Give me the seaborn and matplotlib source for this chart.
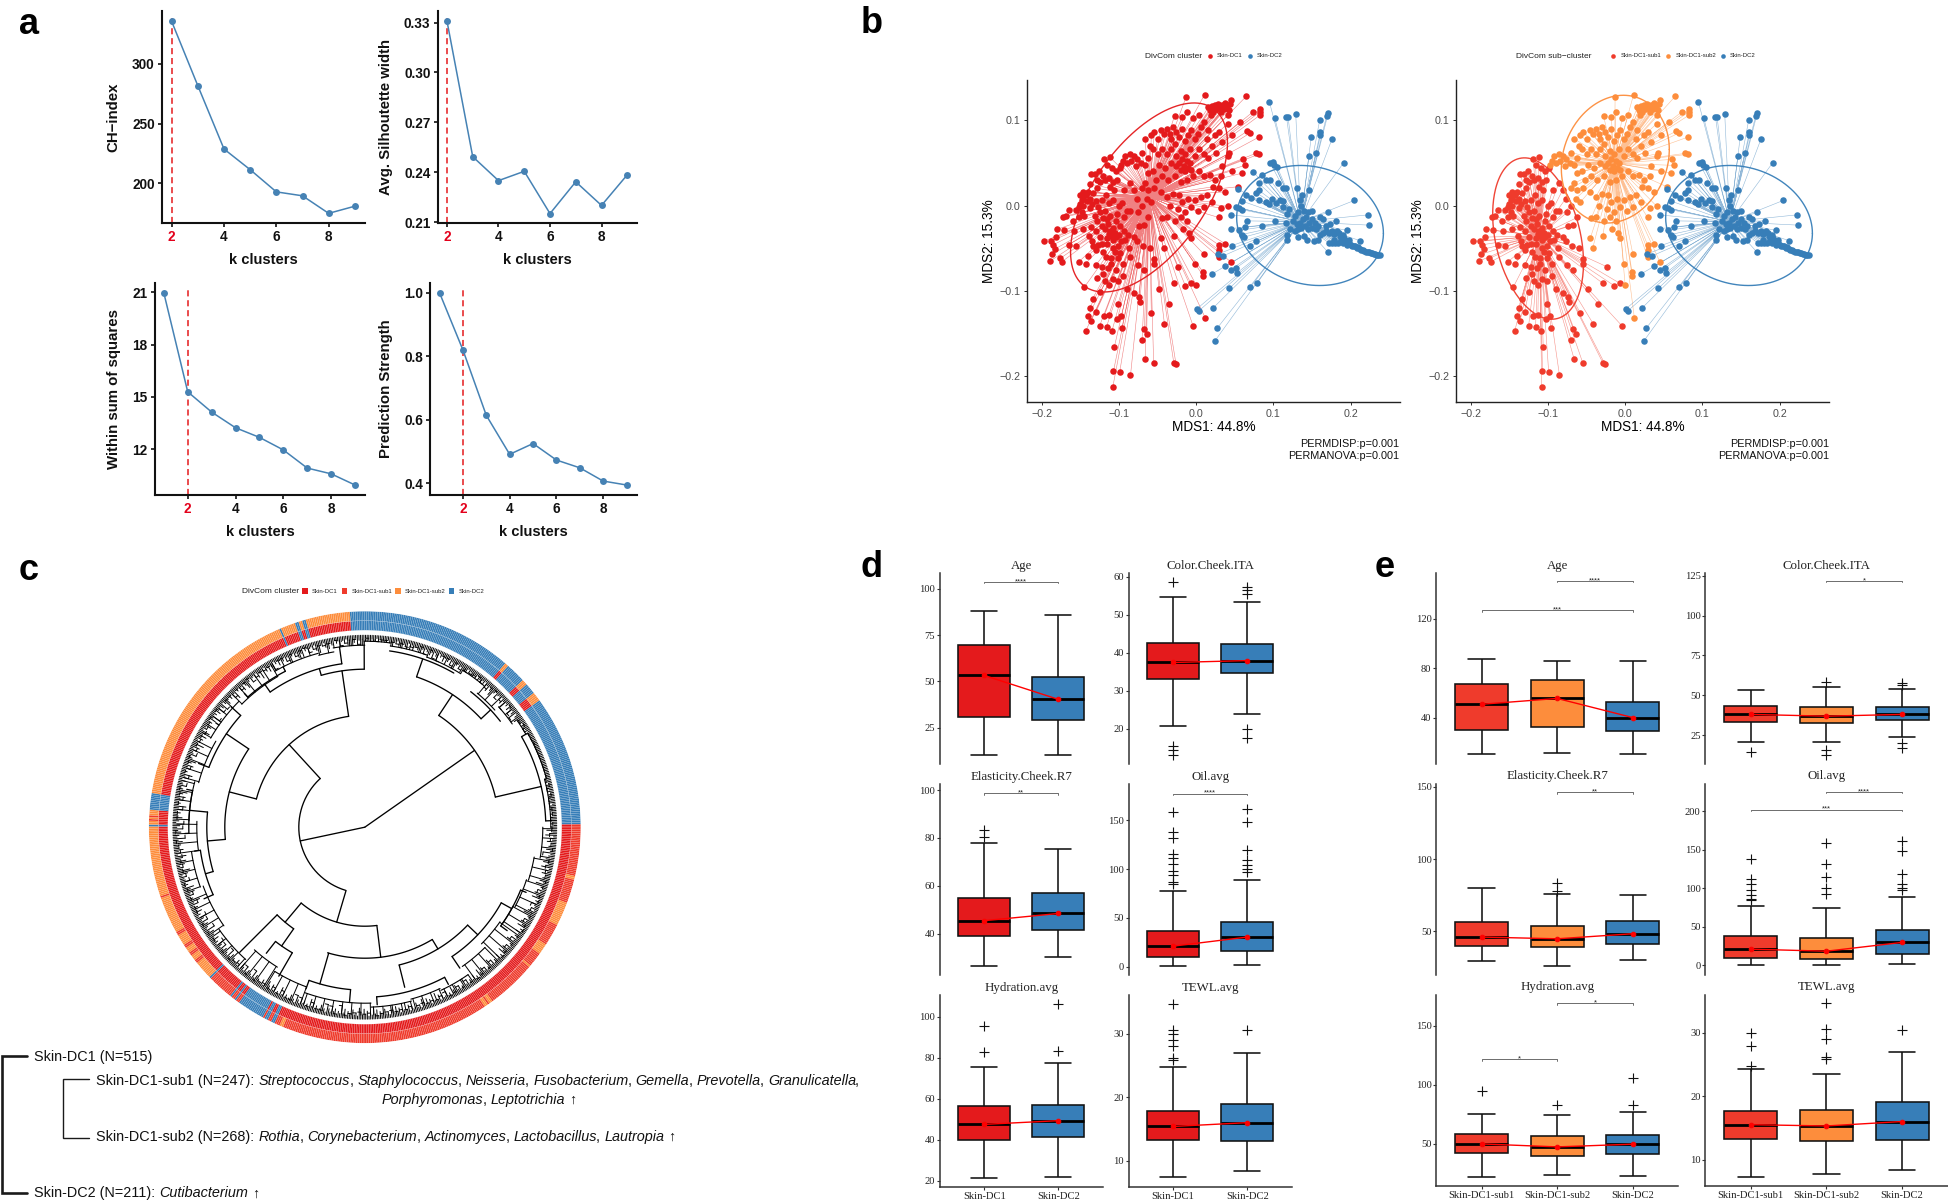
import numpy as np
import pandas as pd
import matplotlib
matplotlib.use("Agg")
import matplotlib.pyplot as plt
from matplotlib.patches import Rectangle
import seaborn as sns

W, H = 1948, 1204
sns.set_theme(style="ticks")
plt.rcParams['font.family'] = ['Liberation Sans', 'DejaVu Sans']
SERIF = ['Liberation Serif', 'DejaVu Serif']

C_DC1, C_DC2, C_S1, C_S2 = "#E41A1C", "#377EB8", "#EF3B2C", "#FD8D3C"
C_LINE = "#4682B4"

# ---------- panel a ----------
K_FULL = [1, 2, 3, 4, 5, 6, 7, 8, 9]
K_FROM2 = [2, 3, 4, 5, 6, 7, 8, 9]
CH_INDEX = [335.6, 281.7, 228.7, 211.4, 192.8, 189.5, 174.8, 180.8]
SILHOUETTE = [0.3309, 0.2494, 0.2350, 0.2406, 0.2152, 0.2343, 0.2201, 0.2385]
WSS = [20.96, 15.29, 14.13, 13.23, 12.68, 11.96, 10.92, 10.59, 9.95]
PRED_STRENGTH = [1.0, 0.82, 0.6138, 0.491, 0.525, 0.473, 0.4485, 0.4067, 0.3943]

# ---------- panel b: MDS coordinates ----------
SUB1 = [(-0.197,-0.042),(-0.188,-0.042),(-0.181,-0.037),(-0.185,-0.046),(-0.183,-0.051),(-0.189,-0.065),(-0.186,-0.057),
(-0.176,-0.062),(-0.174,-0.066),(-0.180,-0.028),(-0.171,-0.029),(-0.165,-0.046),(-0.156,-0.048),(-0.152,-0.066),(-0.143,-0.068),
(-0.140,-0.059),(-0.158,-0.030),(-0.172,-0.014),(-0.168,-0.012),(-0.165,-0.005),(-0.156,-0.005),(-0.160,-0.018),(-0.152,-0.014),
(-0.148,-0.008),(-0.150,0.002),(-0.145,-0.012),(-0.141,0.005),(-0.147,0.010),(-0.142,0.012),(-0.138,0.008),(-0.133,0.015),
(-0.128,0.020),(-0.146,0.000),(-0.138,-0.003),(-0.131,-0.012),(-0.127,-0.002),(-0.122,0.006),(-0.117,0.012),(-0.113,0.003),
(-0.108,0.006),(-0.100,0.000),(-0.096,0.003),(-0.090,-0.006),(-0.086,-0.006),(-0.094,-0.013),(-0.103,-0.010),(-0.111,-0.012),
(-0.120,-0.015),(-0.128,-0.018),(-0.136,-0.025),(-0.146,-0.027),(-0.139,-0.036),(-0.135,-0.042),(-0.130,-0.030),(-0.124,-0.037),
(-0.127,-0.046),(-0.118,-0.028),(-0.114,-0.022),(-0.112,-0.030),(-0.108,-0.026),(-0.105,-0.032),(-0.110,-0.036),(-0.115,-0.038),
(-0.107,-0.040),(-0.104,-0.037),(-0.113,-0.033),(-0.100,-0.034),(-0.097,-0.041),(-0.092,-0.040),(-0.088,-0.034),(-0.080,-0.037),
(-0.074,-0.024),(-0.068,-0.023),(-0.076,-0.042),(-0.069,-0.047),(-0.060,-0.050),(-0.055,-0.063),(-0.054,-0.068),(-0.116,-0.045),
(-0.108,-0.050),(-0.101,-0.048),(-0.121,-0.055),(-0.130,-0.052),(-0.117,-0.060),(-0.110,-0.062),(-0.101,-0.062),(-0.122,-0.072),
(-0.130,-0.070),(-0.114,-0.073),(-0.104,-0.075),(-0.095,-0.068),(-0.085,-0.060),(-0.075,-0.070),(-0.068,-0.075),(-0.118,-0.088),
(-0.108,-0.086),(-0.101,-0.088),(-0.113,-0.093),(-0.090,-0.098),(-0.081,-0.102),(-0.074,-0.107),(-0.073,-0.113),(-0.101,-0.115),
(-0.097,-0.130),(-0.102,-0.133),(-0.113,-0.128),(-0.119,-0.129),(-0.138,-0.120),(-0.140,-0.130),(-0.136,-0.135),(-0.130,-0.125),
(-0.134,-0.109),(-0.145,-0.096),(-0.124,-0.101),(-0.058,-0.126),(-0.035,-0.115),(-0.048,-0.098),(-0.007,-0.091),(-0.014,-0.094),
(-0.029,-0.091),(-0.023,-0.072),(-0.041,-0.139),(-0.004,-0.141),(-0.070,-0.157),(-0.064,-0.150),(-0.067,-0.145),(-0.096,-0.143),
(-0.109,-0.147),(-0.116,-0.142),(-0.125,-0.141),(-0.143,-0.147),(-0.106,-0.166),(-0.066,-0.180),(-0.055,-0.184),(-0.029,-0.184),
(-0.026,-0.186),(-0.107,-0.194),(-0.099,-0.195),(-0.085,-0.199),(-0.108,-0.213),(-0.112,0.057),(-0.119,0.054),(-0.109,0.044),
(-0.116,0.047),(-0.104,0.040),(-0.099,0.044),(-0.136,0.037),(-0.131,0.037),(-0.126,0.040),(-0.121,0.035),(-0.128,0.030),
(-0.124,0.028),(-0.118,0.030),(-0.113,0.032),(-0.108,0.028),(-0.103,0.030),(-0.112,0.022),(-0.106,0.018),(-0.094,0.018),
(-0.086,0.026),(-0.081,0.018),(-0.077,0.008),(-0.070,0.000),(-0.075,-0.008),(-0.062,-0.014),(-0.140,0.016),(-0.146,0.016),
(-0.151,0.012),(-0.137,0.025),(-0.148,0.006),(-0.152,-0.002),(-0.135,0.002),(-0.130,0.005),(-0.124,-0.008),(-0.118,-0.006),
(-0.122,-0.024),(-0.116,-0.016),(-0.104,-0.018),(-0.099,-0.024),(-0.094,-0.030),(-0.122,-0.045),(-0.133,-0.047),(-0.105,-0.055),
(-0.098,-0.056),(-0.087,-0.050),(-0.110,-0.068),(-0.095,-0.082),(-0.120,-0.080),(-0.128,-0.085)]

SUB2 = [(0.011,0.130),(0.065,0.128),(-0.013,0.127),(0.074,0.110),(0.083,0.113),(0.083,0.110),(0.083,0.106),(0.016,0.115),
(0.018,0.112),(0.020,0.116),(0.022,0.110),(0.024,0.118),(0.026,0.113),(0.028,0.119),(0.030,0.115),(0.032,0.110),(0.034,0.118),
(0.036,0.113),(0.038,0.120),(0.040,0.116),(0.042,0.112),(0.044,0.119),(0.045,0.123),(0.019,0.106),(0.041,0.106),(0.066,0.087),
(0.070,0.085),(0.081,0.080),(0.047,0.083),(0.041,0.096),(0.057,0.098),(0.077,0.061),(0.081,0.060),(0.043,0.061),(0.041,0.058),
(0.061,0.054),(0.063,0.047),(0.060,0.038),(0.047,0.041),(0.034,0.046),(0.054,0.022),(0.032,-0.003),(0.041,-0.001),(0.029,-0.014),
(0.029,-0.046),(0.038,-0.045),(0.029,-0.052),(0.029,-0.060),(0.045,-0.066),(0.010,-0.057),(-0.002,-0.068),(0.009,-0.078),
(0.009,-0.082),(0.000,-0.093),(0.012,-0.132),(-0.017,-0.027),(-0.009,-0.032),(-0.007,-0.038),(-0.029,-0.036),(-0.042,-0.050),
(-0.045,-0.038),(-0.044,-0.015),(-0.038,-0.014),(-0.092,0.058),(-0.085,0.060),(-0.080,0.058),(-0.095,0.052),(-0.090,0.050),
(-0.097,0.048),(-0.084,0.052),(-0.076,0.055),(-0.072,0.050),(-0.078,0.046),(-0.070,0.062),(-0.066,0.048),(-0.062,0.056),
(-0.060,0.070),(-0.066,0.078),(-0.058,0.082),(-0.054,0.086),(-0.050,0.078),(-0.046,0.088),(-0.042,0.084),(-0.038,0.090),
(-0.034,0.084),(-0.030,0.092),(-0.026,0.086),(-0.032,0.078),(-0.028,0.072),(-0.022,0.080),(-0.018,0.090),(-0.014,0.076),
(-0.010,0.082),(-0.006,0.088),(-0.002,0.078),(0.002,0.084),(0.006,0.092),(0.010,0.098),(-0.028,0.105),(-0.018,0.104),(-0.012,0.110),
(-0.004,0.102),(0.004,0.106),(0.016,0.088),(0.014,0.078),(0.020,0.070),(0.024,0.082),(0.030,0.086),(0.034,0.074),(0.026,0.062),
(-0.056,0.066),(-0.050,0.060),(-0.044,0.066),(-0.038,0.060),(-0.032,0.066),(-0.026,0.058),(-0.020,0.064),(-0.014,0.060),(-0.008,0.066),
(-0.002,0.058),(0.004,0.066),(0.010,0.060),(0.016,0.056),(-0.022,0.050),(-0.018,0.054),(-0.016,0.046),(-0.012,0.052),(-0.010,0.044),
(-0.014,0.040),(-0.008,0.050),(-0.006,0.042),(-0.020,0.042),(-0.026,0.046),(-0.032,0.050),(-0.040,0.044),(-0.048,0.048),(-0.056,0.040),
(-0.062,0.038),(-0.052,0.030),(-0.044,0.034),(-0.036,0.030),(-0.028,0.034),(-0.020,0.028),(-0.012,0.030),(-0.004,0.034),(0.004,0.040),
(0.010,0.034),(0.018,0.036),(0.024,0.030),(0.032,0.034),(-0.066,0.026),(-0.070,0.020),(-0.062,0.018),(-0.054,0.020),(-0.046,0.016),
(-0.064,0.008),(-0.058,0.004),(-0.038,0.010),(-0.030,0.014),(-0.022,0.012),(-0.018,0.004),(-0.010,0.008),(-0.002,0.006),(0.006,0.010),
(0.014,0.012),(0.020,0.004),(-0.034,0.000),(-0.024,-0.004),(-0.014,-0.008),(-0.006,-0.002),(0.002,-0.006),(0.010,-0.002),(-0.028,-0.018),
(-0.020,-0.014),(-0.012,-0.018),(0.022,0.022),(0.030,0.020),(0.038,0.016)]

DC2 = [(0.095,0.121),(0.102,0.102),(0.117,0.104),(0.119,0.104),(0.129,0.107),(0.160,0.100),(0.169,0.105),(0.171,0.108),(0.149,0.080),
(0.161,0.086),(0.161,0.082),(0.176,0.078),(0.146,0.058),(0.155,0.061),(0.191,0.050),(0.096,0.050),(0.100,0.051),(0.101,0.048),
(0.105,0.045),(0.074,0.039),(0.085,0.036),(0.090,0.030),(0.096,0.030),(0.081,0.026),(0.106,0.026),(0.112,0.020),(0.117,0.020),
(0.081,0.018),(0.078,0.015),(0.054,0.019),(0.064,0.012),(0.071,0.009),(0.060,0.005),(0.082,0.007),(0.131,0.021),(0.146,0.018),
(0.137,0.012),(0.134,0.006),(0.205,0.006),(0.222,-0.011),(0.224,-0.023),(0.171,-0.008),(0.181,-0.018),(0.195,-0.029),(0.212,-0.041),
(0.171,-0.055),(0.051,-0.002),(0.045,-0.011),(0.045,-0.027),(0.056,-0.029),(0.063,-0.025),(0.059,-0.034),(0.062,-0.037),(0.046,-0.047),
(0.070,-0.048),(0.078,-0.042),(0.028,-0.057),(0.035,-0.059),(0.038,-0.071),(0.021,-0.080),(0.045,-0.075),(0.052,-0.073),(0.053,-0.079),
(0.043,-0.097),(0.070,-0.096),(0.079,-0.091),(0.001,-0.121),(0.004,-0.123),(0.022,-0.120),(0.027,-0.144),(0.024,-0.159),(0.056,-0.003),
(0.060,-0.005),(0.066,-0.018),(0.085,-0.024),(0.090,0.004),(0.095,0.002),(0.098,0.008),(0.103,0.003),(0.108,0.006),(0.113,0.005),
(0.120,-0.004),(0.118,-0.010),(0.116,-0.020),(0.102,-0.018),(0.122,-0.028),(0.118,-0.035),(0.118,-0.040),(0.136,0.000),(0.132,-0.008),
(0.128,-0.012),(0.140,-0.006),(0.145,-0.008),(0.150,-0.006),(0.142,-0.014),(0.138,-0.016),(0.134,-0.020),(0.130,-0.022),(0.126,-0.018),
(0.146,-0.020),(0.150,-0.016),(0.154,-0.020),(0.132,-0.028),(0.128,-0.030),(0.136,-0.026),(0.141,-0.024),(0.145,-0.028),(0.150,-0.026),
(0.155,-0.028),(0.160,-0.014),(0.164,-0.016),(0.158,-0.024),(0.132,-0.037),(0.140,-0.036),(0.143,-0.040),(0.153,-0.042),(0.158,-0.040),
(0.164,-0.032),(0.168,-0.030),(0.172,-0.032),(0.176,-0.030),(0.178,-0.033),(0.182,-0.030),(0.185,-0.032),(0.186,-0.036),(0.190,-0.034),
(0.188,-0.040),(0.192,-0.038),(0.180,-0.044),(0.176,-0.044),(0.172,-0.044),(0.184,-0.044),(0.190,-0.044),(0.194,-0.042),(0.196,-0.046),
(0.198,-0.044),(0.200,-0.046),(0.202,-0.047),(0.204,-0.048),(0.206,-0.047),(0.208,-0.050),(0.210,-0.049),(0.212,-0.051),(0.214,-0.052),
(0.216,-0.052),(0.218,-0.053),(0.220,-0.054),(0.222,-0.054),(0.224,-0.055),(0.226,-0.056),(0.228,-0.056),(0.230,-0.057),(0.232,-0.057),
(0.234,-0.058),(0.236,-0.058),(0.238,-0.058),(0.198,-0.040),(0.168,-0.024),(0.174,-0.022),(0.160,-0.034),(0.178,-0.040),(0.112,-0.002)]

# centroid x, centroid y, half-range x, half-range y, correlation
ELL_DC1 = (-0.061, 0.0094, 0.1016, 0.1107, 0.575)
ELL_SUB1 = (-0.1127, -0.0387, 0.0588, 0.0945, -0.30)
ELL_SUB2 = (-0.0127, 0.0543, 0.0699, 0.0748, 0.15)
ELL_DC2 = (0.1475, -0.0234, 0.095, 0.0703, -0.13)
CEN_DC1 = (-0.061, 0.0105)
CEN_SUB1 = (-0.111, -0.0355)
CEN_SUB2 = (-0.0136, 0.0496)
CEN_DC2 = (0.1355, -0.019)
MDS_XTICKS = [-0.2, -0.1, 0.0, 0.1, 0.2]
MDS_YTICKS = [-0.2, -0.1, 0.0, 0.1]

# ---------- panel c: ring groups, clockwise from just left of north ----------
RING_RUNS = [("DC2",90),("S2",2),("DC2",11),("S2",3),("DC2",6),("S2",5),("DC2",71),
 ("S1",28),("S2",2),("S1",13),("S2",13),("S1",12),("S2",6),("S1",8),("S2",1),("S1",27),("S2",2),("S1",1),("S2",2),("S1",113),("S2",2),("S1",3),
 ("DC2",2),("S1",2),("DC2",2),("S1",1),("DC2",15),("S1",2),("DC2",1),("S1",2),("DC2",1),("S1",14),("DC2",1),
 ("S2",10),("S1",2),("S2",3),("S1",2),("S2",3),("S1",2),("S2",6),("S1",2),("S2",20),("S1",1),("S2",38),
 ("DC2",1),("S2",2),("S1",1),("S2",1),("S1",1),("S2",3),("DC2",9),("S2",116),("DC2",1),("S2",8),("DC2",2),("S2",2),("DC2",2),("S2",24)]
RING_START_DEG = -4.0

# dendrogram branches: theta (deg clockwise from north), radius from, radius to
TREE_RADIAL = [(55,0,134),(258,0,66),(33.5,134,159),(77,134,181),(317.5,66,112),(196.5,66,99),
 (351.7,112,158),(284.6,112,140),(344,158,165),(359.8,158,186),(304,140,167),(265,140,158),
 (312,167,180),(291,167,178),(275.5,158,176),(253.7,158,166),(220,99,124),(173,99,131),
 (225,124,177),(215,124,145),(218,145,160),(210,145,172),(196,131,163),(149,131,142),
 (166,142,165),(133.6,142,156),(146,156,170),(119,156,168),(19,159,178),(47,159,172),(60,181,188),(88,181,187),
 (325,165,175),(352,165,182),(185,163,176),(200,163,172),(176,170,178),(152,170,178),(112,168,174),(126,168,176),
 (318,175,180),(333,175,180),(305,178,182),(282,176,182),(268,176,180),(246,166,176),(262,166,172)]
TREE_ARC = [(134,33.5,77),(66,197,317.5),(112,284.6,351.7),(158,344,359.8),(140,265,304),(167,291,312),(158,253.7,275.5),
 (99,173,220),(124,215,225),(145,210,218),(131,149,196.5),(142,133.6,166),(156,119,146),(159,19,47),(181,60,88),
 (165,325,352),(163,185,200),(170,152,176),(168,112,126),(175,318,333),(178,8,30),(172,38,52),(166,246,262),(176,268,282)]
# outer clades: sector start, sector end, inner radius
SECTOR_T1 = [350,0,8,20,32,40,48,55,60,75,90,100,108,118,125,135,145,155,165,178,190,200,212,222,235,250,262,272,285,300,315,330,345]
SECTOR_T2 = [360,8,20,32,40,48,55,60,75,90,100,108,118,125,135,145,155,165,178,190,200,212,222,235,250,262,272,285,300,315,330,345,350]
SECTOR_R = [182,186,183,181,185,175,180,186,188,186,178,172,170,168,165,170,180,178,180,176,176,170,165,178,172,175,168,176,172,178,174,180,178]
TIP_DEPTH = [4,7,3,9,5,12,4,6,3,8,5,10,4,7,11,3,6,4,9,5]

# ---------- panels d / e: whisker low, Q1, median, Q3, whisker high, outliers ----------
GROUPS_D = ["Skin-DC1", "Skin-DC2"]
GROUPS_E = ["Skin-DC1-sub1", "Skin-DC1-sub2", "Skin-DC2"]
TITLES = ["Age", "Color.Cheek.ITA", "Elasticity.Cheek.R7", "Oil.avg", "Hydration.avg", "TEWL.avg"]

AGE_D = [(10.2,30.9,53.2,69.8,87.8,[]), (10.2,29,40.3,52.5,86,[])]
ITA_D = [(20.7,33,37.4,42.5,54.7,[58.7,15.4,14.3,12.9]), (23.8,34.7,37.9,42.4,53.4,[57.4,56.4,55.4,19.8,17.5])]
ELA_D = [(26.4,39.1,45.4,54.7,77.9,[83.2,80.5]), (30.1,41.6,48.4,57.1,75.3,[])]
OIL_D = [(0.5,9.4,21,36.8,77.8,[159,138.5,132,115.8,111.5,105.5,98,93.6,87,85]), (1.7,15.8,30.3,46.2,88.9,[161.5,148.3,119.2,109.4,104.3,100,97])]
HYD_D = [(21.5,40,47.5,56.7,75.4,[95.3,82.7]), (21.8,41.4,49.3,57.1,77.5,[106,83.3])]
TEW_D = [(7.4,13.2,15.4,17.9,24.7,[34.7,30.6,30,29,28,26.2,25.9]), (8.4,13.1,16,19,27,[30.5])]
STATS_D = [AGE_D, ITA_D, ELA_D, OIL_D, HYD_D, TEW_D]
LIMS_D = [(5.4,108.6),(10.66,61),(22.5,102.4),(-9,186.8),(17,110.4),(5.9,36)]
TICKS_D = [[25,50,75,100],[20,30,40,50,60],[40,60,80,100],[0,50,100,150],[20,40,60,80,100],[10,20,30]]
BRACKETS_D = [[(0,1,103.6,"****")],[],[(0,1,98.6,"**")],[(0,1,177.4,"****")],[],[]]

AGE_E = [(10.3,30.2,50.8,67,87.6,[]),(11.3,32.2,55.5,70.7,85.6,[]),(10.3,29.2,40,52.5,85.6,[])]
ITA_E = [(20.8,33.2,38,43.5,53.4,[14.3]),(20.5,32.5,36.9,42.4,55,[58.6,15.5,12.4]),(23.7,34.3,38,42.7,53.7,[57.4,56.3,20.3,16.9])]
ELA_E = [(29.5,39.6,46,56.6,80,[]),(26,39.3,44.8,54,76,[83.5,77.7]),(30,41.3,48.3,57.2,74.9,[])]
OIL_E = [(0,9.2,21,38.5,77.5,[138,112.7,106,98,91,86,84.6]),(0,8.1,18.4,34.9,74.5,[158.8,131.7,114.4,100.8,92.7]),(1.6,15.2,29.8,46,88.3,[161.5,148,119,106,100.8,97.6])]
HYD_E = [(21.8,41.9,50,58.5,75.3,[95]),(23.8,39.8,47.5,56.4,74.3,[83]),(22.8,41.8,49.8,57.6,77.4,[106,83.4])]
TEW_E = [(7.3,13.3,15.5,17.7,24.2,[30,27.9,24.7]),(7.8,13,15.3,17.8,23.5,[34.6,30.6,29,26.1,25.9]),(8.4,13.1,16,19,26.9,[30.5])]
STATS_E = [AGE_E, ITA_E, ELA_E, OIL_E, HYD_E, TEW_E]
LIMS_E = [(2.8,157.2),(7.2,126.8),(20,152.3),(-12,236),(14.7,176.5),(5.9,36)]
TICKS_E = [[40,80,120],[25,50,75,100,125],[50,100,150],[0,50,100,150,200],[50,100,150],[10,20,30]]
BRACKETS_E = [[(1,2,150.4,"****"),(0,2,126.8,"***")],[(1,2,121.6,"*")],[(1,2,146.2,"**")],
              [(1,2,224.9,"****"),(0,2,201.6,"***")],[(1,2,169,"*"),(0,1,121.6,"*")],[]]

fig = plt.figure(figsize=(W/100, H/100), dpi=100, facecolor="white")

def add_ax(l, t, r, b, **kw):
    return fig.add_axes([l/W, 1-b/H, (r-l)/W, (b-t)/H], **kw)

ov = add_ax(0, 0, W, H, zorder=10)
ov.set_xlim(0, W); ov.set_ylim(H, 0); ov.axis("off"); ov.patch.set_alpha(0)

# ---------- panel a ----------
def elbow(box, k, vals, xlim, ylim, yticks, fmt, ylabel, ylab_x):
    l, t, r, b = box
    ax = add_ax(l, t, r, b)
    ax.axvline(2, ymin=0, ymax=0.975, color="#E41A1C", lw=1.1, ls=(0, (4, 2.5)), zorder=1)
    sns.lineplot(x=k, y=vals, ax=ax, color=C_LINE, lw=1.1, marker="o", markersize=5, markeredgewidth=0, zorder=3)
    ax.set_xlim(*xlim); ax.set_ylim(*ylim)
    ax.set_xticks([2, 4, 6, 8]); ax.set_yticks(yticks)
    ax.set_yticklabels([fmt % v for v in yticks])
    sns.despine(ax=ax)
    for s in ("left", "bottom"):
        ax.spines[s].set_linewidth(1.5); ax.spines[s].set_color("#111111")
    ax.tick_params(length=3.2, width=1.2, pad=2, color="#111111", labelcolor="#111111", labelsize=9.8)
    for tl in ax.get_xticklabels() + ax.get_yticklabels():
        tl.set_fontweight("bold")
    ax.get_xticklabels()[0].set_color("#E3001B")
    ax.set_xlabel("k clusters", fontsize=10.6, fontweight="bold", color="#111111", va="center")
    ax.set_ylabel(ylabel, fontsize=10.8, fontweight="bold", color="#111111", va="center")
    ax.xaxis.set_label_coords(0.5, -37.0 / (b - t))
    ax.yaxis.set_label_coords((ylab_x - l) / (r - l), 0.5)

elbow((162, 10.7, 365.3, 222.9), K_FROM2, CH_INDEX, (1.63, 9.4), (166.8, 344.6), [200, 250, 300], "%d", "CH\u2212index", 113.6)
elbow((437.7, 10.7, 636.8, 222.9), K_FROM2, SILHOUETTE, (1.64, 9.37), (0.2096, 0.3371), [0.21, 0.24, 0.27, 0.30, 0.33], "%.2f", "Avg. Silhoutette width", 386)
elbow((154.9, 282.9, 365.3, 494.6), K_FULL, WSS, (0.627, 9.43), (9.40, 21.53), [12, 15, 18, 21], "%d", "Within sum of squares", 113.6)
elbow((430.1, 282.9, 636.8, 494.6), K_FULL, PRED_STRENGTH, (0.595, 9.44), (0.364, 1.0315), [0.4, 0.6, 0.8, 1.0], "%.1f", "Prediction Strength", 386)

# ---------- panel b ----------
def ellipse_xy(e):
    cx, cy, a, b, rho = e
    t = np.linspace(0, 2*np.pi, 240)
    return cx + a*np.cos(t), cy + b*(rho*np.cos(t) + np.sqrt(1-rho**2)*np.sin(t))

def mds_panel(l, r, sets, ann_right):
    ax = add_ax(l, 80, r, 402.3)
    for pts, col, cen, ell in sets:
        p = np.array(pts)
        xs = np.column_stack([p[:, 0], np.full(len(p), cen[0]), np.full(len(p), np.nan)]).ravel()
        ys = np.column_stack([p[:, 1], np.full(len(p), cen[1]), np.full(len(p), np.nan)]).ravel()
        ax.plot(xs, ys, color=col, lw=0.4, alpha=0.55, zorder=1)
    for pts, col, cen, ell in sets:
        p = np.array(pts)
        sns.scatterplot(x=p[:, 0], y=p[:, 1], color=col, s=22, linewidth=0, ax=ax, zorder=2, legend=False)
        ex, ey = ellipse_xy(ell)
        ax.plot(ex, ey, color=col, lw=1.0, zorder=3, alpha=0.95)
    ax.set_xlim(-0.219, 0.264); ax.set_ylim(-0.2305, 0.147)
    ax.set_xticks(MDS_XTICKS); ax.set_yticks(MDS_YTICKS)
    ax.set_xticklabels(["\u22120.2", "\u22120.1", "0.0", "0.1", "0.2"])
    ax.set_yticklabels(["\u22120.2", "\u22120.1", "0.0", "0.1"])
    sns.despine(ax=ax)
    for s in ("left", "bottom"):
        ax.spines[s].set_linewidth(1.0); ax.spines[s].set_color("#222222")
    ax.tick_params(length=2, width=0.7, pad=2.5, labelsize=7.7, labelcolor="#4D4D4D", color="#333333")
    ax.set_xlabel("MDS1: 44.8%", fontsize=9.8, color="black", va="center")
    ax.set_ylabel("MDS2: 15.3%", fontsize=9.8, color="black", va="center")
    ax.xaxis.set_label_coords(0.5, -24.4/322.3)
    ax.yaxis.set_label_coords(-38 / (r - l), 0.5)
    ov.text(ann_right, 444, "PERMDISP:p=0.001", ha="right", va="center", fontsize=7.8, color="#111111")
    ov.text(ann_right, 456, "PERMANOVA:p=0.001", ha="right", va="center", fontsize=7.8, color="#111111")

mds_panel(1027, 1400, [(SUB1 + SUB2, C_DC1, CEN_DC1, ELL_DC1), (DC2, C_DC2, CEN_DC2, ELL_DC2)], 1399)
mds_panel(1456, 1829, [(SUB1, C_S1, CEN_SUB1, ELL_SUB1), (SUB2, C_S2, CEN_SUB2, ELL_SUB2), (DC2, C_DC2, CEN_DC2, ELL_DC2)], 1829)

def key_dots(title, tx, y, items, title_size=6):
    ov.text(tx, y, title, fontsize=title_size, va="center", ha="left", color="#222222")
    for dx, col, lx, lab in items:
        ov.scatter([dx], [y], s=11, color=col, linewidths=0)
        ov.text(lx, y-0.5, lab, fontsize=4.3, va="center", ha="left", color="#222222")

key_dots("DivCom cluster", 1145, 56, [(1209.5, C_DC1, 1217, "Skin-DC1"), (1250, C_DC2, 1257, "Skin-DC2")])
key_dots("DivCom sub\u2212cluster", 1516, 56, [(1613, C_S1, 1621, "Skin-DC1-sub1"), (1668.4, C_S2, 1676, "Skin-DC1-sub2"), (1722.6, C_DC2, 1730, "Skin-DC2")])

# ---------- panel c ----------
cx, cy, rad = 364.8, 827.2, 216.0
pol = add_ax(cx-rad, cy-rad, cx+rad, cy+rad, projection="polar")
pol.set_theta_zero_location("N"); pol.set_theta_direction(-1)
pol.set_ylim(0, rad); pol.axis("off")
outer = np.repeat([g for g, _ in RING_RUNS], [c for _, c in RING_RUNS])
n = len(outer)
step = 360.0 / n
theta_deg = RING_START_DEG + step * (np.arange(n) + 0.5)
COL_OUT = {"S1": C_S1, "S2": C_S2, "DC2": C_DC2}
COL_IN = {"S1": C_DC1, "S2": C_DC1, "DC2": C_DC2}
th = np.deg2rad(theta_deg)
wd = np.deg2rad(step)
pol.bar(th, 9.4, width=wd, bottom=197, color=[COL_IN[g] for g in outer], edgecolor="white", linewidth=0.06)
pol.bar(th, 9.4, width=wd, bottom=206.6, color=[COL_OUT[g] for g in outer], edgecolor="white", linewidth=0.06)

LW = 0.95
for t, r0, r1 in TREE_RADIAL:
    pol.plot([np.deg2rad(t)]*2, [r0, r1], color="black", lw=LW, solid_capstyle="round")
for r0, t1, t2 in TREE_ARC:
    tt = np.deg2rad(np.linspace(t1, t2, max(4, int(abs(t2-t1)*2))))
    pol.plot(tt, np.full(len(tt), r0), color="black", lw=LW, solid_capstyle="round")
TIP = 192.0
for t1, t2, r0 in zip(SECTOR_T1, SECTOR_T2, SECTOR_R):
    tt = np.deg2rad(np.linspace(t1, t2, max(4, int((t2-t1)*2))))
    pol.plot(tt, np.full(len(tt), r0), color="black", lw=0.8)
    mask = ((theta_deg % 360) >= t1) & ((theta_deg % 360) < t2)
    idx = np.where(mask)[0]
    for j, i in enumerate(idx):
        d = TIP_DEPTH[i % len(TIP_DEPTH)]
        r_in = max(TIP - d, r0)
        pol.plot([th[i], th[i]], [r_in, TIP], color="black", lw=0.7)
        if j % 6 == 0:
            pol.plot([th[i], th[i]], [r0, TIP - 4], color="black", lw=0.7)
        if j % 3 == 0 and j + 2 < len(idx) and idx[j+2] - i == 2:
            pol.plot(np.linspace(th[i], th[idx[j+2]], 4), np.full(4, r_in), color="black", lw=0.7)

ov.text(242, 591.7, "DivCom cluster", fontsize=6, va="center", ha="left", color="#222222")
for sx, col, lx, lab in [(305, C_DC1, 312, "Skin-DC1"), (344.4, C_S1, 351.4, "Skin-DC1-sub1"),
                         (398, C_S2, 405, "Skin-DC1-sub2"), (451.6, C_DC2, 459, "Skin-DC2")]:
    ov.add_patch(Rectangle((sx-2.8, 591.2-2.8), 5.6, 5.6, color=col, lw=0))
    ov.text(lx, 591.2, lab, fontsize=4.3, va="center", ha="left", color="#222222")

# ---------- bottom text of panel c ----------
rend = fig.canvas.get_renderer()
def run_text(x, y, pieces, size=10.4):
    gap = 0.278 * size * 100 / 72
    for k, (txt, sty) in enumerate(pieces):
        if k:
            x += -1.2 if txt.startswith(",") else gap
        t = ov.text(x, y, txt, fontsize=size, style=sty, va="center", ha="left", color="#111111")
        x = t.get_window_extent(rend).x1 + 0.2
it, no = "italic", "normal"
run_text(33.7, 1057.3, [("Skin-DC1 (N=515)", no)])
run_text(96.5, 1080.7, [("Skin-DC1-sub1 (N=247):", no), ("Streptococcus", it), (",", no), ("Staphylococcus", it), (",", no),
                        ("Neisseria", it), (",", no), ("Fusobacterium", it), (",", no), ("Gemella", it), (",", no),
                        ("Prevotella", it), (",", no), ("Granulicatella", it), (",", no)])
run_text(381.6, 1100, [("Porphyromonas", it), (",", no), ("Leptotrichia", it), ("\u2191", no)])
run_text(96.5, 1136.7, [("Skin-DC1-sub2 (N=268):", no), ("Rothia", it), (",", no), ("Corynebacterium", it), (",", no),
                        ("Actinomyces", it), (",", no), ("Lactobacillus", it), (",", no), ("Lautropia", it), ("\u2191", no)])
run_text(33.7, 1193.3, [("Skin-DC2 (N=211):", no), ("Cutibacterium", it), ("\u2191", no)])
ov.plot([27, 2, 2, 27], [1055.7, 1055.7, 1192.7, 1192.7], color="#1a1a1a", lw=1.9, solid_joinstyle="miter")
ov.plot([88.7, 63, 63, 88.7], [1079, 1079, 1138.3, 1138.3], color="#1a1a1a", lw=1.0, solid_joinstyle="miter")

# ---------- panels d, e ----------
def expand(stat, copies=60):
    lo, q1, med, q3, hi, out = stat
    return [lo] + [q1]*copies + [med]*copies + [q3]*copies + [hi] + list(out)

def box_panel(box, title, groups, stats, colors, ylim, yticks, brackets, show_x, tick_size):
    l, t, r, b = box
    ax = add_ax(l, t, r, b)
    frame = pd.DataFrame([(g, v) for g, s in zip(groups, stats) for v in expand(s)], columns=["group", "value"])
    sns.boxplot(data=frame, x="group", y="value", hue="group", order=groups, hue_order=groups,
                palette=dict(zip(groups, colors)), saturation=1, width=0.7, linecolor="#111111", linewidth=1.15,
                flierprops=dict(marker="+", markersize=6.5, markeredgewidth=0.8),
                medianprops=dict(linewidth=2.0, color="black"), legend=False, ax=ax)
    sns.pointplot(x=groups, y=[s[2] for s in stats], color="red", markers="o", markersize=3.3, linewidth=1.0,
                  errorbar=None, ax=ax, zorder=6)
    ax.set_xlim(-0.6, len(groups) - 1 + 0.6)
    ax.set_ylim(*ylim)
    ax.set_yticks(yticks)
    ax.set_ylabel(""); ax.set_xlabel("")
    sns.despine(ax=ax)
    ax.spines["left"].set_linewidth(1.1); ax.spines["left"].set_color("#333333")
    ax.tick_params(axis="y", length=2.5, width=0.8, pad=1, labelsize=tick_size, color="#333333", labelcolor="#222222")
    if show_x:
        ax.spines["bottom"].set_linewidth(1.1); ax.spines["bottom"].set_color("#333333")
        ax.tick_params(axis="x", length=2.5, width=0.8, pad=1.5, labelsize=tick_size, color="#333333", labelcolor="#222222")
    else:
        ax.spines["bottom"].set_visible(False)
        ax.tick_params(axis="x", length=0, labelbottom=False)
    for tl in ax.get_xticklabels() + ax.get_yticklabels():
        tl.set_fontfamily(SERIF)
    ax.set_title(title, fontsize=9.3, fontfamily=SERIF, pad=3, color="#222222")
    tip = (ylim[1] - ylim[0]) * 0.006
    for x0, x1, yv, lab in brackets:
        ax.plot([x0, x0, x1, x1], [yv-tip, yv, yv, yv-tip], color="#555555", lw=0.6, zorder=5)
        ax.annotate(lab, xy=((x0+x1)/2, yv), xytext=(0, -2), textcoords="offset points", ha="center", va="bottom",
                    fontsize=5.6, color="#222222", annotation_clip=False)

ROW_D = [(572.9, 764), (784.4, 975.4), (995.4, 1186.9)]
COL_D = [(940, 1102.7), (1128.7, 1291.7)]
ROW_E = [(572.9, 763.5), (783.6, 974.6), (994.6, 1185.6)]
COL_E = [(1436.3, 1678.1), (1705.4, 1947.5)]
for i in range(6):
    rw, cl = i // 2, i % 2
    box_panel((COL_D[cl][0], ROW_D[rw][0], COL_D[cl][1], ROW_D[rw][1]), TITLES[i], GROUPS_D, STATS_D[i],
              [C_DC1, C_DC2], LIMS_D[i], TICKS_D[i], BRACKETS_D[i], rw == 2, 7.6)
    box_panel((COL_E[cl][0], ROW_E[rw][0], COL_E[cl][1], ROW_E[rw][1]), TITLES[i], GROUPS_E, STATS_E[i],
              [C_S1, C_S2, C_DC2], LIMS_E[i], TICKS_E[i], BRACKETS_E[i], rw == 2, 7.6)

# ---------- panel letters ----------
for lab, x, y in [("a", 19, 34), ("b", 861, 33), ("c", 19, 580), ("d", 861, 577), ("e", 1375, 577)]:
    ov.text(x, y, lab, fontsize=26, fontweight="bold", color="black", ha="left", va="baseline")

fig.savefig("out.png", dpi=100, facecolor="white")
